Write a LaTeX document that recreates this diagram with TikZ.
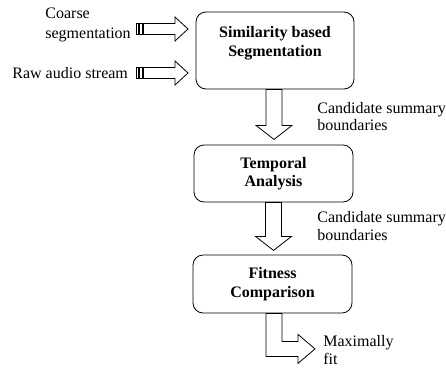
\documentclass[tikz,border=0pt]{standalone}
\usepackage{fontspec}
\setmainfont{Liberation Serif}
\begin{document}
\begin{tikzpicture}[x=1pt,y=-1pt,line width=0.8pt,
  box/.style={draw,rounded corners=10pt,align=center,inner sep=0pt,
    font=\fontsize{16}{18.5}\selectfont\bfseries},
  lab/.style={align=left,inner sep=0pt,font=\fontsize{16}{17.5}\selectfont},
  blk/.style={draw,fill=white,line join=miter}]
\useasboundingbox (0,0) rectangle (446,367);
% boxes
\node[box,minimum width=158pt,minimum height=77pt] (b1) at (275,50.5) {Similarity based\\Segmentation\\\mbox{}};
\node[box,minimum width=159pt,minimum height=57pt] (b2) at (273.5,173.5) {Temporal\\Analysis};
\node[box,minimum width=159pt,minimum height=58pt] (b3) at (272.5,284) {Fitness\\Comparison};
% input labels
\node[lab,anchor=west,font=\fontsize{16}{19.5}\selectfont] (l1) at (45,25) {Coarse\\segmentation};
\node[lab,anchor=west] (l2) at (12,73) {Raw audio stream};
% striped input arrows
\coordinate (a1) at (136,29);
\coordinate (a2) at (136,73);
\foreach \a in {a1,a2}{
  \draw[blk] ([yshift=-5.5pt]\a) rectangle ([xshift=2pt,yshift=5.5pt]\a);
  \draw[blk] ([xshift=3.5pt,yshift=-5.5pt]\a) rectangle ([xshift=6pt,yshift=5.5pt]\a);
  \draw[blk] ([xshift=7.5pt,yshift=5.5pt]\a) -- ++(31.5,0) -- ++(0,-6.5) -- ++(13,12) -- ++(-13,12) -- ++(0,-6.5) -- ++(-31.5,0) -- cycle;
}
% down arrows
\draw[blk] ([xshift=-9pt]b1.south) -- ++(16,0) -- ++(0,36) -- ++(10,0) -- ++(-18,14) -- ++(-18,-14) -- ++(10,0) -- cycle;
\draw[blk] ([xshift=-8pt]b2.south) -- ++(16,0) -- ++(0,34) -- ++(10,0) -- ++(-18,14) -- ++(-18,-14) -- ++(10,0) -- cycle;
% output bent arrow
\draw[blk] ([xshift=-6.5pt]b3.south) -- ++(16,0) -- ++(0,28) -- ++(16,0) -- ++(0,-7) -- ++(17,14.5) -- ++(-17,14.5) -- ++(0,-7) -- ++(-32,0) -- cycle;
% right labels
\node[lab,anchor=west] (c1) at (317,116.5) {Candidate summary\\boundaries};
\node[lab,anchor=west] (c2) at (317,226) {Candidate summary\\boundaries};
\node[lab,anchor=west] (m) at (323,350) {Maximally\\fit};
\end{tikzpicture}
\end{document}
